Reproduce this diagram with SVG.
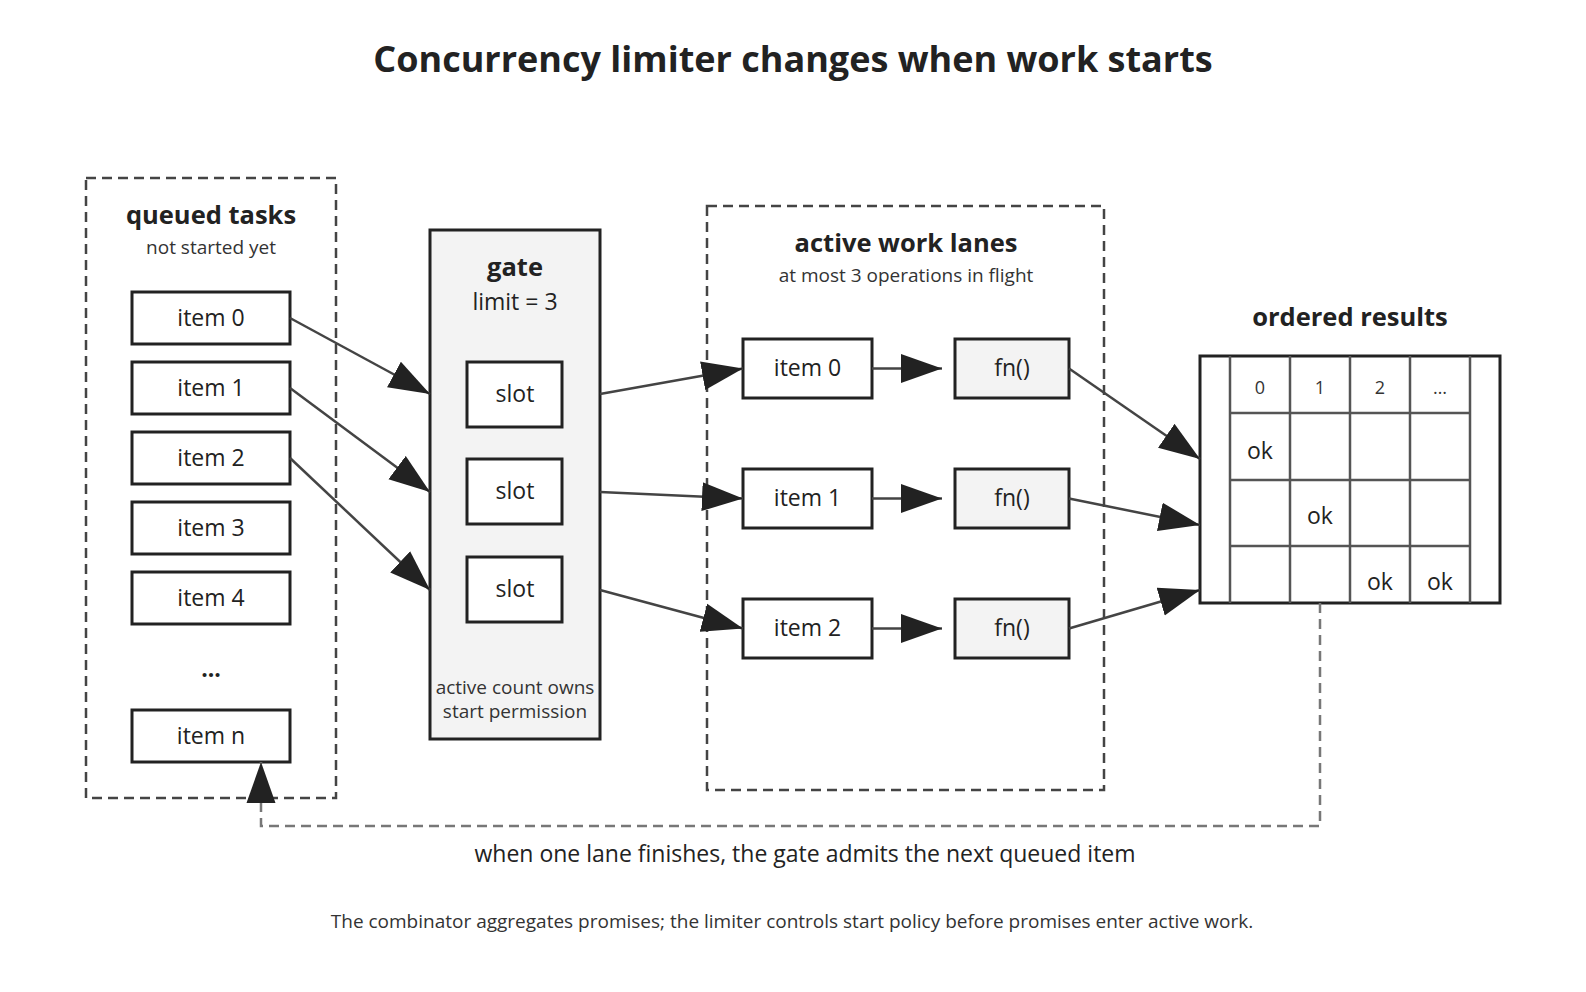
<svg xmlns="http://www.w3.org/2000/svg" width="1586" height="992" viewBox="0 0 1586 992">
<style>
text{font-family:"Open Sans","Noto Sans","DejaVu Sans",sans-serif;fill:#222;text-anchor:middle}
.title{font-size:36px;font-weight:700}
.h{font-size:25.5px;font-weight:700}
.sub{font-size:19px;fill:#333}
.lbl{font-size:23px}
.small{font-size:19px;fill:#333}
.hdr{font-size:18px;fill:#333}
.box{fill:#fff;stroke:#222;stroke-width:3}
.gbox{fill:#f3f3f3;stroke:#222;stroke-width:3}
.grp{fill:none;stroke:#444;stroke-width:2.5;stroke-dasharray:10 6}
.edge{fill:none;stroke:#444;stroke-width:2.5;marker-end:url(#ah)}
.fb{fill:none;stroke:#777;stroke-width:2.5;stroke-dasharray:10 6;marker-end:url(#ah)}
.grid{fill:none;stroke:#555;stroke-width:2.5}
</style>
<defs>
<marker id="ah" markerUnits="userSpaceOnUse" markerWidth="41" markerHeight="30" refX="41" refY="14.5" orient="auto" viewBox="0 0 41 29">
<path d="M0,0 L41,14.5 L0,29 z" fill="#222"/>
</marker>
</defs>
<rect width="1586" height="992" fill="#fff"/>
<text class="title" x="793" y="72">Concurrency limiter changes when work starts</text>

<g id="queued">
<rect class="grp" x="86" y="178" width="250" height="620"/>
<text class="h" x="211" y="224">queued tasks</text>
<text class="sub" x="211" y="254">not started yet</text>
</g>
<g id="q-item0"><rect class="box" x="132" y="292" width="158" height="52"/><text class="lbl" x="211" y="326">item 0</text></g>
<g id="q-item1"><rect class="box" x="132" y="362" width="158" height="52"/><text class="lbl" x="211" y="396">item 1</text></g>
<g id="q-item2"><rect class="box" x="132" y="432" width="158" height="52"/><text class="lbl" x="211" y="466">item 2</text></g>
<g id="q-item3"><rect class="box" x="132" y="502" width="158" height="52"/><text class="lbl" x="211" y="536">item 3</text></g>
<g id="q-item4"><rect class="box" x="132" y="572" width="158" height="52"/><text class="lbl" x="211" y="606">item 4</text></g>
<g id="q-ellipsis"><text class="lbl" x="211" y="677" style="font-weight:700">...</text></g>
<g id="q-itemn"><rect class="box" x="132" y="710" width="158" height="52"/><text class="lbl" x="211" y="744">item n</text></g>

<g id="gate">
<rect class="gbox" x="430" y="230" width="170" height="509"/>
<text class="h" x="515" y="276">gate</text>
<text class="lbl" x="515" y="310">limit = 3</text>
<text class="small" x="515" y="694">active count owns</text>
<text class="small" x="515" y="718">start permission</text>
</g>
<g id="slot0"><rect class="box" x="467" y="362" width="95" height="65"/><text class="lbl" x="515" y="402">slot</text></g>
<g id="slot1"><rect class="box" x="467" y="459" width="95" height="65"/><text class="lbl" x="515" y="499">slot</text></g>
<g id="slot2"><rect class="box" x="467" y="557" width="95" height="65"/><text class="lbl" x="515" y="597">slot</text></g>

<g id="lanes">
<rect class="grp" x="707" y="206" width="397" height="584"/>
<text class="h" x="906" y="252">active work lanes</text>
<text class="sub" x="906" y="282">at most 3 operations in flight</text>
</g>
<g id="l-item0"><rect class="box" x="743" y="339" width="129" height="59"/><text class="lbl" x="807.5" y="376">item 0</text></g>
<g id="l-item1"><rect class="box" x="743" y="469" width="129" height="59"/><text class="lbl" x="807.5" y="506">item 1</text></g>
<g id="l-item2"><rect class="box" x="743" y="599" width="129" height="59"/><text class="lbl" x="807.5" y="636">item 2</text></g>
<g id="fn0"><rect class="gbox" x="955" y="339" width="114" height="59"/><text class="lbl" x="1012" y="376">fn()</text></g>
<g id="fn1"><rect class="gbox" x="955" y="469" width="114" height="59"/><text class="lbl" x="1012" y="506">fn()</text></g>
<g id="fn2"><rect class="gbox" x="955" y="599" width="114" height="59"/><text class="lbl" x="1012" y="636">fn()</text></g>

<g id="results">
<text class="h" x="1350" y="326">ordered results</text>
<rect x="1200" y="356" width="300" height="247" fill="#fff" stroke="#222" stroke-width="3"/>
<path class="grid" d="M1230,356 V603 M1290,356 V603 M1350,356 V603 M1410,356 V603 M1470,356 V603 M1230,413 H1470 M1230,480 H1470 M1230,546 H1470"/>
<text class="hdr" x="1260" y="394">0</text>
<text class="hdr" x="1320" y="394">1</text>
<text class="hdr" x="1380" y="394">2</text>
<text class="hdr" x="1440" y="394">…</text>
<text class="lbl" x="1260" y="459">ok</text>
<text class="lbl" x="1320" y="524">ok</text>
<text class="lbl" x="1380" y="590">ok</text>
<text class="lbl" x="1440" y="590">ok</text>
</g>

<g id="connectors">
<path class="edge" d="M290,318 L430,394"/>
<path class="edge" d="M290,388 L430,492"/>
<path class="edge" d="M290,458 L430,590"/>
<path class="edge" d="M600,394 L743,368.5"/>
<path class="edge" d="M600,492 L743,498.5"/>
<path class="edge" d="M600,590 L743,628.5"/>
<path class="edge" d="M872,368.5 L942,368.5"/>
<path class="edge" d="M872,498.5 L942,498.5"/>
<path class="edge" d="M872,628.5 L942,628.5"/>
<path class="edge" d="M1069,368.5 L1200,459"/>
<path class="edge" d="M1069,498.5 L1200,525"/>
<path class="edge" d="M1069,628.5 L1200,590"/>
<path class="fb" d="M1320,603 V826 H261 V762"/>
</g>
<text class="lbl" x="805" y="862">when one lane finishes, the gate admits the next queued item</text>
<text class="small" x="792" y="928">The combinator aggregates promises; the limiter controls start policy before promises enter active work.</text>
</svg>
